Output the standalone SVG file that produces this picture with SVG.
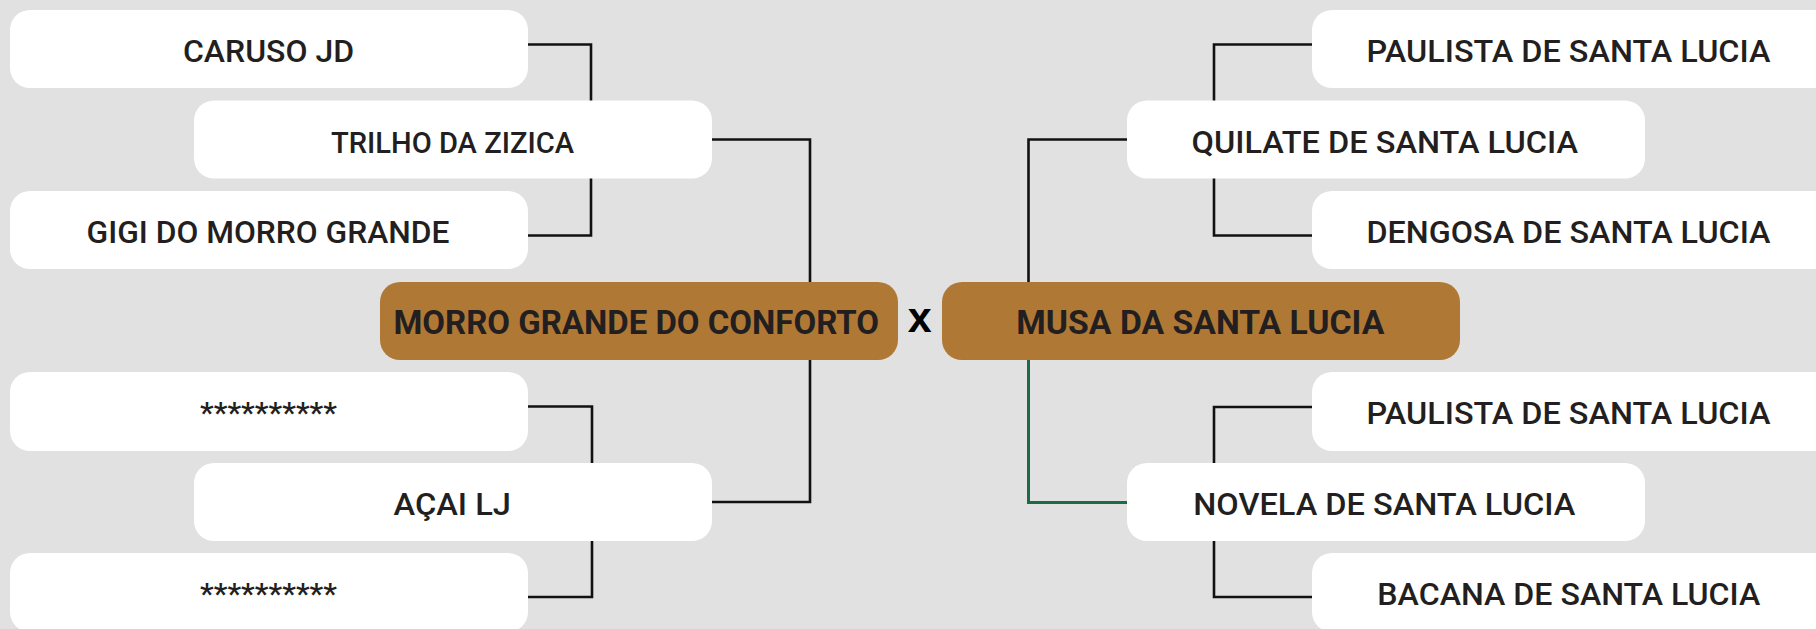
<svg xmlns="http://www.w3.org/2000/svg" width="1816" height="629" viewBox="0 0 1816 629">
<style>
.bg{fill:#e1e1e1}
.box{fill:#ffffff}
.main{fill:#b07835}
.t{font-family:Roboto,"Liberation Sans",sans-serif;font-weight:500;font-size:32px;fill:#231f20}
.tb{font-family:Roboto,"Liberation Sans",sans-serif;font-weight:700;font-size:32.5px;fill:#231f20}
.ln{fill:none;stroke:#111111;stroke-width:2.6}
.gl{fill:none;stroke:#1b6b44;stroke-width:3}
</style>
<rect class="bg" x="0" y="0" width="1816" height="629"/>
<g id="connectors">
<path class="ln" d="M528,44.5 H591 V235.5 H528"/>
<path class="ln" d="M712,139.5 H810 V502 H712"/>
<path class="ln" d="M528,406.5 H592 V597 H528"/>
<path class="ln" d="M1312,44.5 H1214 V235.5 H1312"/>
<path class="ln" d="M1127,139.5 H1028.5 V282"/>
<path class="ln" d="M1312,407 H1214 V597 H1312"/>
<path class="gl" d="M1028.5,360 V502.5 H1127"/>
</g>
<g id="caruso"><rect class="box" x="10" y="10" width="518" height="78" rx="20"/><text class="t" x="183" y="61.7" textLength="171" lengthAdjust="spacingAndGlyphs">CARUSO JD</text></g>
<g id="trilho"><rect class="box" x="194" y="100.5" width="518" height="78" rx="20"/><text class="t" style="font-size:29.5px" x="331" y="152.7" textLength="243" lengthAdjust="spacingAndGlyphs">TRILHO DA ZIZICA</text></g>
<g id="gigi"><rect class="box" x="10" y="191" width="518" height="78" rx="20"/><text class="t" x="86.5" y="242.7" textLength="363" lengthAdjust="spacingAndGlyphs">GIGI DO MORRO GRANDE</text></g>
<g id="morro"><rect class="main" x="380" y="282" width="518" height="78" rx="20"/><text class="tb" x="393.5" y="334" textLength="485.5" lengthAdjust="spacingAndGlyphs">MORRO GRANDE DO CONFORTO</text></g>
<g id="stars1"><rect class="box" x="10" y="372" width="518" height="79" rx="20"/><text class="t" style="font-size:30px" x="200" y="423" textLength="137" lengthAdjust="spacingAndGlyphs">**********</text></g>
<g id="acai"><rect class="box" x="194" y="463" width="518" height="78" rx="20"/><text class="t" style="font-size:31px" x="393.5" y="515" textLength="117.5" lengthAdjust="spacingAndGlyphs">AÇAI LJ</text></g>
<g id="stars2"><rect class="box" x="10" y="553" width="518" height="79" rx="20"/><text class="t" style="font-size:30px" x="200" y="604" textLength="137" lengthAdjust="spacingAndGlyphs">**********</text></g>
<g id="vs"><text x="919.7" y="331.7" text-anchor="middle" style="font-family:'Liberation Sans',Arial,sans-serif;font-weight:700;font-size:43px;fill:#000000">x</text></g>
<g id="musa"><rect class="main" x="942" y="282" width="518" height="78" rx="20"/><text class="tb" x="1016.3" y="334" textLength="368" lengthAdjust="spacingAndGlyphs">MUSA DA SANTA LUCIA</text></g>
<g id="paulista1"><rect class="box" x="1312" y="10" width="530" height="78" rx="20"/><text class="t" x="1366.5" y="61.7" textLength="404" lengthAdjust="spacingAndGlyphs">PAULISTA DE SANTA LUCIA</text></g>
<g id="quilate"><rect class="box" x="1127" y="100.5" width="518" height="78" rx="20"/><text class="t" x="1191.5" y="152.7" textLength="386.5" lengthAdjust="spacingAndGlyphs">QUILATE DE SANTA LUCIA</text></g>
<g id="dengosa"><rect class="box" x="1312" y="191" width="530" height="78" rx="20"/><text class="t" x="1366.5" y="242.7" textLength="404" lengthAdjust="spacingAndGlyphs">DENGOSA DE SANTA LUCIA</text></g>
<g id="paulista2"><rect class="box" x="1312" y="372" width="530" height="79" rx="20"/><text class="t" x="1366.5" y="424" textLength="404" lengthAdjust="spacingAndGlyphs">PAULISTA DE SANTA LUCIA</text></g>
<g id="novela"><rect class="box" x="1127" y="463" width="518" height="78" rx="20"/><text class="t" x="1193.3" y="515" textLength="382" lengthAdjust="spacingAndGlyphs">NOVELA DE SANTA LUCIA</text></g>
<g id="bacana"><rect class="box" x="1312" y="553" width="530" height="79" rx="20"/><text class="t" x="1377.3" y="605" textLength="383" lengthAdjust="spacingAndGlyphs">BACANA DE SANTA LUCIA</text></g>
</svg>
